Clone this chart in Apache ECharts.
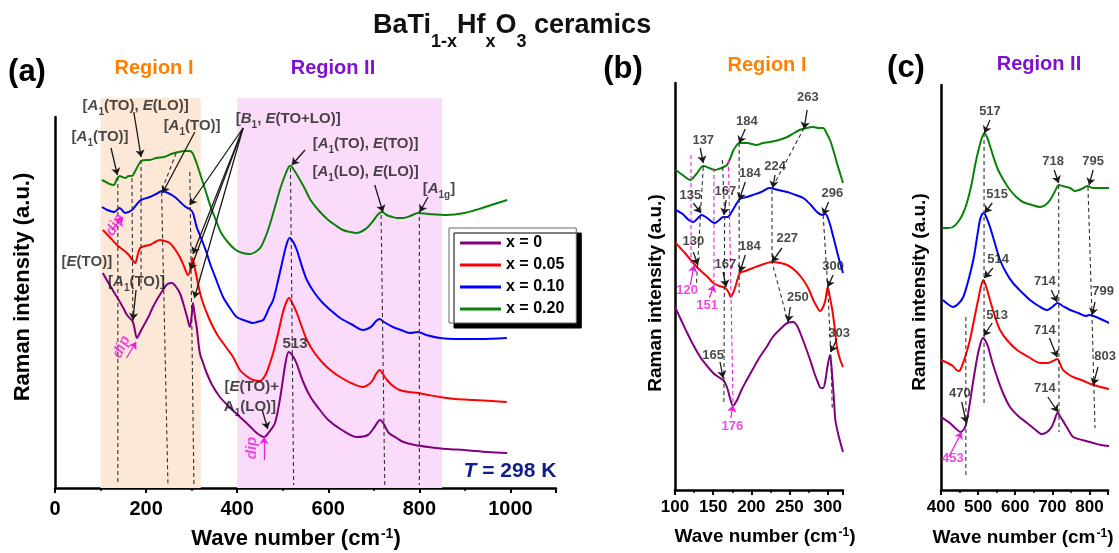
<!DOCTYPE html>
<html>
<head>
<meta charset="utf-8">
<script src="https://cdn.jsdelivr.net/npm/echarts@6/dist/echarts.min.js"></script>
<style>
html, body { margin: 0; padding: 0; background: #fff; }
#chart { width: 1119px; height: 553px; }
</style>
</head>
<body>
<div id="chart"></div>
<script>
// Raman spectra of BaTi(1-x)Hf(x)O3 ceramics at 298 K, offset per composition.
const seriesNames = ['x = 0', 'x = 0.05', 'x = 0.10', 'x = 0.20'];
const seriesColors = ['#800080', '#ff0000', '#0000ff', '#0a820a'];

// Shaded wavenumber regions (cm^-1)
const regionI = [100, 320];
const regionII = [400, 850];

// ---- Panel (a): full range, 0-1000 cm^-1 ----
const specA_x000 = [[105,215],[120,203],[136,191],[150,180],[158,173],[171,166],[180,150],[186,155],[193,161],[205,171],[215,181],[226,190],[237,198],[247,204],[257,205],[266,201],[274,195],[282,184],[290,171],[296,161],[300,172],[303,185],[307,172],[311,161],[318,135],[326,124],[333,115],[345,103],[362,91],[385,80],[406,71],[425,63],[443,55],[459,51],[470,56],[483,65],[495,92],[505,122],[513,136],[522,132],[530,125],[545,106],[561,91],[580,79],[600,68],[630,58],[663,51],[687,53],[700,60],[714,68],[722,64],[733,55],[750,50],[765,46],[790,43],[820,41],[860,39],[899,38],[950,36],[993,35]];
const specA_x005 = [[105,258],[120,251],[136,243],[147,239],[158,235],[167,230],[176,225],[182,234],[187,240],[197,242],[208,243],[220,246],[230,248],[241,247],[252,245],[263,239],[274,231],[283,222],[292,213],[297,218],[302,230],[306,222],[311,211],[318,196],[325,185],[336,172],[347,161],[358,152],[369,145],[380,138],[391,131],[406,118],[420,112],[435,108],[450,107],[462,113],[472,125],[479,135],[490,155],[500,175],[508,186],[514,190],[522,184],[531,175],[542,161],[553,148],[570,135],[588,125],[607,117],[626,111],[650,105],[676,101],[690,104],[698,108],[705,114],[713,118],[720,114],[729,108],[742,102],[757,98],[777,96],[797,95],[820,93],[845,91],[880,89],[920,88],[960,87],[992,86]];
const specA_x010 = [[103,281],[115,278],[130,276],[142,280],[154,275],[169,278],[180,284],[189,288],[208,291],[222,294],[235,297],[248,295],[263,291],[275,286],[287,281],[296,279],[303,275],[311,261],[318,253],[325,245],[333,235],[340,225],[355,207],[369,191],[384,180],[399,171],[420,167],[435,165],[443,166],[457,168],[470,180],[479,188],[490,208],[500,228],[508,243],[515,250],[523,246],[531,238],[542,222],[553,208],[570,195],[588,185],[607,177],[626,170],[650,164],[676,158],[690,160],[698,163],[705,167],[713,169],[722,166],[742,161],[760,158],[779,155],[797,156],[815,153],[845,150],[880,149],[933,149],[992,150]];
const specA_x020 = [[103,308],[112,306],[120,304],[129,303],[136,309],[142,312],[148,311],[154,310],[162,312],[169,312],[175,316],[182,322],[189,327],[200,328],[208,328],[222,330],[240,331],[255,334],[271,336],[285,337],[295,337],[302,335],[310,326],[318,315],[330,298],[342,281],[354,267],[365,255],[381,245],[397,238],[412,235],[428,234],[440,236],[452,241],[467,257],[483,281],[495,300],[507,315],[513,321],[517,322],[526,317],[538,308],[550,298],[561,288],[580,277],[600,268],[615,263],[632,258],[648,256],[663,255],[675,257],[687,261],[700,268],[710,274],[718,276],[728,273],[741,271],[752,270],[765,270],[780,272],[797,275],[820,274],[859,273],[899,275],[938,280],[965,284],[993,288]];

// ---- Panel (b): Region I, 100-320 cm^-1 ----
const specB_x000 = [[100,183],[108,170],[116,157],[124,145],[133,133],[141,125],[150,117],[157,113],[163,110],[168,103],[172,92],[176,84],[179,87],[182,91],[187,100],[194,110],[202,121],[211,133],[220,143],[228,153],[238,161],[247,167],[255,168],[260,164],[264,157],[270,145],[277,130],[282,118],[287,108],[291,102],[294,102],[297,110],[300,125],[303,135],[306,113],[308,92],[310,70],[314,55],[320,38]];
const specB_x005 = [[101,247],[107,242],[113,237],[124,227],[130,222],[137,217],[144,212],[150,207],[158,204],[166,202],[170,198],[173,193],[176,197],[179,203],[182,211],[185,217],[192,219],[202,222],[213,225],[227,228],[238,227],[247,225],[258,219],[268,210],[275,201],[281,190],[286,183],[290,179],[294,183],[297,190],[300,203],[303,192],[306,180],[309,163],[312,143],[316,131],[320,123]];
const specB_x010 = [[101,280],[110,276],[118,270],[124,268],[130,272],[135,275],[142,272],[152,267],[158,270],[163,273],[169,273],[174,278],[178,283],[185,291],[194,293],[202,295],[213,298],[224,302],[235,300],[247,298],[258,295],[268,292],[278,285],[286,278],[293,275],[297,276],[302,268],[306,257],[310,245],[314,233],[320,217]];
const specB_x020 = [[101,320],[110,315],[120,310],[128,316],[137,324],[145,322],[152,320],[157,321],[161,322],[168,325],[172,331],[176,339],[180,344],[184,347],[194,347],[207,345],[215,347],[224,348],[236,350],[247,353],[256,357],[263,360],[272,362],[281,363],[288,362],[294,362],[299,356],[303,350],[308,338],[312,327],[316,317],[320,307]];

// ---- Panel (c): Region II, 400-850 cm^-1 ----
const specC_x000 = [[400,73],[412,70],[424,67],[438,62],[453,58],[460,60],[467,65],[476,83],[486,107],[494,125],[500,137],[506,146],[513,152],[520,149],[527,143],[538,128],[551,113],[567,97],[586,83],[608,74],[632,67],[652,61],[672,56],[686,58],[698,63],[706,70],[714,77],[722,73],[732,67],[745,59],[756,53],[780,50],[810,47],[830,45],[853,44]];
const specC_x005 = [[400,130],[418,127],[432,124],[446,119],[452,120],[465,133],[478,150],[490,172],[500,190],[508,204],[514,210],[522,203],[532,190],[545,174],[559,160],[580,149],[605,140],[636,133],[667,127],[689,127],[702,129],[714,131],[721,126],[729,120],[742,116],[756,113],[785,109],[803,106],[830,103],[853,101]];
const specC_x010 = [[405,190],[418,186],[432,183],[446,186],[460,193],[474,210],[487,230],[496,250],[505,270],[511,276],[515,277],[523,272],[532,263],[545,247],[559,230],[576,217],[594,207],[617,198],[640,190],[663,184],[686,180],[700,183],[714,187],[728,184],[748,180],[770,177],[790,174],[799,175],[830,171],[853,167]];
const specC_x020 = [[405,262],[418,262],[432,263],[446,268],[460,277],[472,290],[483,307],[492,325],[501,340],[510,352],[517,357],[525,352],[533,343],[543,331],[554,320],[570,309],[586,300],[603,293],[621,288],[645,285],[667,283],[681,285],[694,290],[706,298],[718,305],[728,304],[738,303],[748,302],[760,299],[772,300],[784,302],[795,304],[808,302],[820,302],[836,302],[853,302]];

// ---- Mode assignments and guide marks (data coordinates) ----
// markup: *x* italic, _x_ subscript, ^x^ superscript
const notesA = [
  [99,350,'[*A*_1_(TO)]'], [177,381,'[*A*_1_(TO), *E*(LO)]'], [301,361,'[*A*_1_(TO)]'],
  [512,368,'[*B*_1_, *E*(TO+LO)]'], [682,343,'[*A*_1_(TO), *E*(TO)]'], [682,315,'[*A*_1_(LO), *E*(LO)]'],
  [843,298,'[*A*_1g_]'], [70,225,'[*E*(TO)]'], [179,205,'[*A*_1_(TO)]'],
  [432,100,'[*E*(TO)+'], [428,80,'A_1_(LO)]'], [527,143,'513']
];
const arrowsA = [
  [[123,340],[137,313]], [[173,376],[189,331]], [[307,356],[236,295]],
  [[413,360],[296,283]], [[413,360],[297,218]], [[413,360],[303,234]], [[413,360],[306,190]],
  [[549,338],[520,323]], [[702,303],[720,276]], [[819,291],[801,276]],
  [[178,198],[171,168]], [[455,78],[467,59]]
];
const guidesA = [
  [[138,311],[138,3]], [[169,310],[171,166]], [[189,328],[189,198]],
  [[266,335],[234,297],[248,3]], [[296,316],[305,3]],
  [[517,320],[524,3]], [[716,273],[724,3]], [[800,278],[800,3]]
];
const dipsA = [[132,263,60],[146,141,65],[432,40,90]];
const dipArrowsA = [[[125,258],[149,271]], [[157,130],[178,146]], [[459,28],[459,51]]];

const notesB = [
  [137,348,'137'], [194,367,'184'], [274,391,'263'], [231,322,'224'], [120,293,'135'],
  [166,297,'167'], [198,315,'184'], [306,295,'296'], [124,247,'130'], [166,224,'167'],
  [198,242,'184'], [247,250,'227'], [307,222,'300'], [261,191,'250'], [315,155,'303'], [150,133,'165']
];
const pinkNotesB = [[116,198,'120'], [142,183,'151'], [175,62,'176']];
const arrowsB = [
  [[133,342],[137,327]], [[192,361],[184,347]], [[273,380],[269,361]], [[231,315],[228,302]],
  [[124,287],[134,277]], [[167,290],[164,275]], [[192,308],[184,290]], [[301,288],[294,275]],
  [[124,238],[130,225]], [[163,218],[167,203]], [[192,235],[185,218]], [[240,242],[227,228]],
  [[307,215],[300,203]], [[251,183],[248,168]], [[312,151],[304,138]], [[159,128],[163,112]]
];
const pinkArrowsB = [[[120,205],[125,225]], [[145,192],[151,205]], [[173,72],[176,85]]];
const guidesB = [
  [[137,323],[128,205]], [[162,330],[165,275],[164,87]], [[184,347],[184,197]],
  [[269,362],[227,302],[227,228],[248,168]], [[294,275],[300,203],[304,137],[306,80]]
];
const pinkGuidesB = [[[121,335],[121,227]], [[151,322],[151,205]], [[170,330],[176,87]]];

const notesC = [
  [532,377,'517'], [702,327,'718'], [810,327,'795'], [551,294,'515'], [554,229,'514'],
  [680,207,'714'], [837,197,'799'], [551,173,'513'], [680,158,'714'], [842,132,'803'],
  [680,100,'714'], [451,95,'470']
];
const pinkNotesC = [[432,30,'453']];
const arrowsC = [
  [[532,370],[517,357]], [[705,320],[717,307]], [[810,320],[799,305]], [[538,287],[518,277]],
  [[540,222],[517,212]], [[697,200],[713,188]], [[815,188],[807,175]], [[538,167],[515,154]],
  [[692,152],[713,133]], [[823,123],[810,105]], [[688,93],[715,78]], [[456,88],[468,67]]
];
const pinkArrowsC = [[[421,33],[456,58]]];
const guidesC = [
  [[516,357],[516,85]], [[717,305],[718,58]], [[796,303],[807,173],[815,62]], [[467,173],[467,15]]
];

// ------------------------------------------------------------------
const F = 'Arial, "Liberation Sans", sans-serif';
const INK = '#1a1a1a';
const PINK = '#ee1ee0';

function rich(s) {
  return s.split(/(\*[^*]+\*|_[^_]+_|\^[^^]+\^)/).filter(Boolean).map(p => {
    if (p[0] === '*') return '{i|' + p.slice(1, -1) + '}';
    if (p[0] === '_') return '{s|' + p.slice(1, -1) + '}';
    if (p[0] === '^') return '{p|' + p.slice(1, -1) + '}';
    return '{n|' + p + '}';
  }).join('');
}
function richSet(fs, color) {
  const base = { fontSize: fs, fontWeight: 'bold', fontFamily: F, color: color, lineHeight: fs + 3, verticalAlign: 'top' };
  const small = Math.round(fs * 0.64);
  return {
    n: base,
    i: Object.assign({}, base, { fontStyle: 'italic' }),
    s: { fontSize: small, fontWeight: 'bold', fontFamily: F, color: color, lineHeight: small, verticalAlign: 'top', padding: [Math.round(fs * 0.62), 0, 0, 0] },
    p: { fontSize: small, fontWeight: 'bold', fontFamily: F, color: color, lineHeight: small, verticalAlign: 'top', padding: [0, 0, 0, 1] }
  };
}

function curve(name, data, color, ax) {
  return {
    type: 'line', name: name, data: data, xAxisIndex: ax, yAxisIndex: ax,
    symbol: 'none', showSymbol: false, smooth: 0.3, silent: true, z: 3,
    lineStyle: { color: color, width: 2 }, itemStyle: { color: color }
  };
}
function textLayer(ax, items, fs, color) {
  return {
    type: 'scatter', xAxisIndex: ax, yAxisIndex: ax, symbolSize: 1, silent: true, clip: false, z: 8,
    itemStyle: { color: 'rgba(0,0,0,0)' },
    data: items.map(it => ({ value: [it[0], it[1]], name: it[2] })),
    label: { show: true, position: 'inside', formatter: p => rich(p.name), rich: richSet(fs, color),
             fontSize: fs, fontWeight: 'bold', fontFamily: F, color: color }
  };
}
function dipLayer(ax, items) {
  return {
    type: 'scatter', xAxisIndex: ax, yAxisIndex: ax, symbolSize: 1, silent: true, clip: false, z: 8,
    itemStyle: { color: 'rgba(0,0,0,0)' },
    data: items.map(it => ({ value: [it[0], it[1]], label: { rotate: it[2] } })),
    label: { show: true, position: 'inside', formatter: 'dip', fontSize: 15, fontWeight: 'bold',
             fontStyle: 'italic', fontFamily: F, color: PINK }
  };
}
function arrowLayer(ax, items, color) {
  return {
    type: 'lines', coordinateSystem: 'cartesian2d', xAxisIndex: ax, yAxisIndex: ax,
    silent: true, clip: false, z: 7, symbol: ['none', 'arrow'], symbolSize: 7,
    lineStyle: { color: color, width: 1.3, opacity: 1, curveness: 0 },
    data: items.map(c => ({ coords: c }))
  };
}
function guideLayer(ax, items, color) {
  return {
    type: 'lines', coordinateSystem: 'cartesian2d', xAxisIndex: ax, yAxisIndex: ax, polyline: true,
    silent: true, clip: false, z: 6, symbol: 'none',
    lineStyle: { color: color, width: 1.1, type: [4, 3], opacity: 1 },
    data: items.map(c => ({ coords: c }))
  };
}

function xAxisOf(grid, min, max, interval, fs, margin) {
  return {
    gridIndex: grid, type: 'value', min: min, max: max, interval: interval,
    axisLine: { show: true, onZero: false, lineStyle: { color: '#000', width: 2.5 } },
    axisTick: { show: true, inside: false, length: 5, lineStyle: { color: '#000', width: 2 } },
    minorTick: { show: true, splitNumber: 2, length: 3, lineStyle: { color: '#000', width: 1.5 } },
    axisLabel: { fontSize: fs, fontWeight: 'bold', fontFamily: F, color: '#000', margin: margin,
                 showMaxLabel: false, formatter: v => String(v) },
    splitLine: { show: false }, minorSplitLine: { show: false }
  };
}
function yAxisOf(grid, max) {
  return {
    gridIndex: grid, type: 'value', min: 0, max: max,
    axisLine: { show: true, onZero: false, lineStyle: { color: '#000', width: 2.5 } },
    axisTick: { show: false }, axisLabel: { show: false }, splitLine: { show: false }
  };
}
function hiddenAxis(grid, min, max) {
  return { gridIndex: grid, type: 'value', min: min, max: max, show: false,
           axisLine: { show: false }, axisTick: { show: false }, axisLabel: { show: false }, splitLine: { show: false } };
}

function gText(x, y, str, fs, color, opts) {
  opts = opts || {};
  return {
    type: 'text', x: x, y: y, rotation: opts.rotation || 0, silent: true, z: 20,
    style: {
      text: rich(str), rich: richSet(fs, color), fill: color,
      font: 'bold ' + fs + 'px ' + F,
      align: opts.align || 'center', verticalAlign: opts.vAlign || 'middle',
      textAlign: opts.align || 'center', textVerticalAlign: opts.vAlign || 'middle'
    }
  };
}

const specA = [specA_x000, specA_x005, specA_x010, specA_x020];
const specB = [specB_x000, specB_x005, specB_x010, specB_x020];
const specC = [specC_x000, specC_x005, specC_x010, specC_x020];

const series = [];
// shaded regions live on a taller companion grid behind panel (a)
series.push({
  type: 'line', xAxisIndex: 1, yAxisIndex: 1, data: [[0, 0]], symbol: 'none', silent: true, z: 0,
  lineStyle: { width: 0 },
  markArea: {
    silent: true,
    data: [
      [{ xAxis: regionI[0], yAxis: 0, itemStyle: { color: '#fde8d8' } }, { xAxis: regionI[1], yAxis: 1 }],
      [{ xAxis: regionII[0], yAxis: 0, itemStyle: { color: '#fadcfa' } }, { xAxis: regionII[1], yAxis: 1 }]
    ]
  }
});
[[specA, 0], [specB, 2], [specC, 3]].forEach(([set, ax]) => {
  set.forEach((d, k) => series.push(curve(seriesNames[k], d, seriesColors[k], ax)));
});
series.push(guideLayer(0, guidesA, '#333'));
series.push(arrowLayer(0, arrowsA, INK));
series.push(arrowLayer(0, dipArrowsA, PINK));
series.push(textLayer(0, notesA, 15, INK));
series.push(dipLayer(0, dipsA));

series.push(guideLayer(2, guidesB, '#333'));
series.push(guideLayer(2, pinkGuidesB, PINK));
series.push(arrowLayer(2, arrowsB, INK));
series.push(arrowLayer(2, pinkArrowsB, PINK));
series.push(textLayer(2, notesB, 13, INK));
series.push(textLayer(2, pinkNotesB, 13, PINK));

series.push(guideLayer(3, guidesC, '#333'));
series.push(arrowLayer(3, arrowsC, INK));
series.push(arrowLayer(3, pinkArrowsC, PINK));
series.push(textLayer(3, notesC, 13, INK));
series.push(textLayer(3, pinkNotesC, 13, PINK));

const chart = echarts.init(document.getElementById('chart'), null, { renderer: 'canvas' });
chart.setOption({
  animation: false,
  backgroundColor: '#fff',
  grid: [
    { left: 55, right: 563, top: 117, bottom: 65 },
    { left: 55, right: 563, top: 98, bottom: 65 },
    { left: 675, right: 276, top: 83, bottom: 63 },
    { left: 941, right: 11, top: 85, bottom: 63 }
  ],
  xAxis: [
    xAxisOf(0, 0, 1100, 200, 20, 11),
    hiddenAxis(1, 0, 1100),
    xAxisOf(2, 100, 320, 50, 17, 9),
    xAxisOf(3, 400, 850, 100, 17, 9)
  ],
  yAxis: [
    yAxisOf(0, 371),
    hiddenAxis(1, 0, 1),
    yAxisOf(2, 407),
    yAxisOf(3, 405)
  ],
  legend: {
    data: seriesNames, orient: 'vertical', left: 449, top: 228,
    icon: 'rect', itemWidth: 41, itemHeight: 3, itemGap: 6, padding: [7, 12, 6, 11],
    backgroundColor: '#fff', borderColor: '#666', borderWidth: 1,
    shadowColor: '#000', shadowBlur: 0, shadowOffsetX: 5, shadowOffsetY: 5,
    textStyle: { fontSize: 16, fontWeight: 'bold', fontFamily: F, color: '#000', lineHeight: 16 },
    selectedMode: false
  },
  graphic: [
    {
      type: 'text', x: 373, y: 12, silent: true,
      style: {
        text: '{m|BaTi}{s|1-x}{m|Hf}{s|x}{m|O}{s|3}{m| ceramics}',
        rich: {
          m: { fontSize: 27, fontWeight: 'bold', fontFamily: F, fill: '#111', color: '#111', lineHeight: 30, verticalAlign: 'top' },
          s: { fontSize: 18, fontWeight: 'bold', fontFamily: F, fill: '#111', color: '#111', lineHeight: 16, verticalAlign: 'top', padding: [21, 0, 0, 0] }
        },
        align: 'left', verticalAlign: 'top'
      }
    },
    gText(27, 74, '(a)', 31, '#000'),
    gText(623, 71, '(b)', 31, '#000'),
    gText(906, 70, '(c)', 31, '#000'),
    gText(154, 70, 'Region I', 20, '#ff8000'),
    gText(333, 70, 'Region II', 20, '#8010d0'),
    gText(767, 67, 'Region I', 20, '#ff8000'),
    gText(1039, 66, 'Region II', 20, '#8010d0'),
    gText(296, 540, 'Wave number (cm^-1^)', 22, '#000'),
    gText(765, 538, 'Wave number (cm^-1^)', 19, '#000'),
    gText(1023, 539, 'Wave number (cm^-1^)', 19, '#000'),
    gText(24, 287, 'Raman intensity (a.u.)', 22, '#000', { rotation: Math.PI / 2 }),
    gText(657, 293, 'Raman intensity (a.u.)', 19, '#000', { rotation: Math.PI / 2 }),
    gText(921, 292, 'Raman intensity (a.u.)', 19, '#000', { rotation: Math.PI / 2 }),
    gText(510, 473, '*T* = 298 K', 21, '#101e8c')
  ],
  series: series
});
</script>
</body>
</html>
